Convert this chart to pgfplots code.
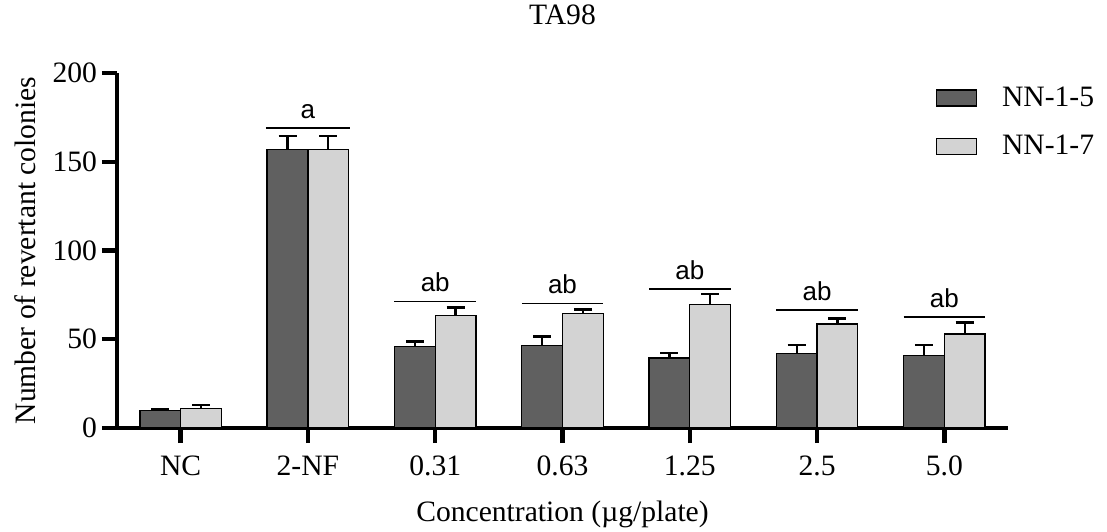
\documentclass[border=0pt]{standalone}
\usepackage{fontspec}
\setmainfont{Liberation Serif}
\newfontfamily\sansf{Liberation Sans}
\usepackage{pgfplots}
\usepackage{pgfplotstable}
\pgfplotsset{compat=1.18}
\definecolor{darkbar}{RGB}{96,96,96}
\definecolor{lightbar}{RGB}{211,211,211}
\pgfplotstableread{
x y e
0 10 0.6
1 157 7.5
2 46 2.8
3 46.5 5
4 39.5 2.8
5 42 4.8
6 41 5.6
}\nnfive
\pgfplotstableread{
x y e
0 11 1.8
1 157 7.5
2 63.5 4.5
3 64.5 2.3
4 69.5 6
5 58.5 3.3
6 53 6.4
}\nnseven
\newcommand{\fs}{\fontsize{14.8}{17}\selectfont}
\begin{document}
\begin{tikzpicture}
\begin{axis}[
 name=ax,
 scale only axis,
 width=445.5pt, height=177.5pt,
 xmin=-0.5, xmax=6.5, ymin=0, ymax=200,
 axis x line=bottom, axis y line=left,
 axis line style={line width=2.2pt, -},
 tick align=outside,
 major tick length=7.5pt,
 tick style={line width=2.2pt, black},
 xtick={0,...,6},
 xticklabels={NC,2-NF,0.31,0.63,1.25,2.5,5.0},
 ytick={0,50,100,150,200},
 /pgf/number format/assume math mode=true,
 tick label style={font=\fs},
 xticklabel style={yshift=-3pt},
 yticklabel style={xshift=1pt},
 title={TA98},
 title style={font=\fs, at={(0.5,1)}, anchor=center, yshift=23pt},
 xlabel={Concentration (µg/plate)},
 xlabel style={font=\fs, at={([yshift=-43pt]rel axis cs:0.5,0)}, anchor=center},
 ylabel={Number of revertant colonies},
 ylabel style={font=\fs, at={([xshift=-46pt]rel axis cs:0,0.5)}, anchor=center},
 legend style={draw=none, fill=none, font=\fs, at={(0.9116,0.985)}, anchor=north west, row sep=9pt,
   /tikz/every odd column/.append style={column sep=10.5pt}},
 legend cell align=left,
 legend image code/.code={\draw[#1, line width=0.7pt] (0pt,-4pt) rectangle (20pt,4pt);},
 clip=false,
]
\addplot[ybar, bar width=0.32, bar shift=0pt, fill=darkbar, draw=black, line width=0.7pt,
  error bars/.cd, y dir=plus, y explicit,
  error bar style={line width=1.2pt, black},
  error mark options={rotate=90, mark size=4.5pt, line width=1.2pt, black}]
  table[x expr=\thisrow{x}-0.16, y=y, y error=e] {\nnfive};
\addlegendentry{NN-1-5}
\addplot[ybar, bar width=0.32, bar shift=0pt, fill=lightbar, draw=black, line width=0.7pt,
  error bars/.cd, y dir=plus, y explicit,
  error bar style={line width=1.2pt, black},
  error mark options={rotate=90, mark size=4.5pt, line width=1.2pt, black}]
  table[x expr=\thisrow{x}+0.16, y=y, y error=e] {\nnseven};
\addlegendentry{NN-1-7}
\addplot[sharp plot, black, line width=0.7pt, forget plot] coordinates {(0.67,169) (1.33,169)};
\addplot[sharp plot, black, line width=0.7pt, forget plot] coordinates {(1.68,71.4) (2.32,71.4)};
\addplot[sharp plot, black, line width=0.7pt, forget plot] coordinates {(2.68,70.1) (3.32,70.1)};
\addplot[sharp plot, black, line width=0.7pt, forget plot] coordinates {(3.68,78.3) (4.32,78.3)};
\addplot[sharp plot, black, line width=0.7pt, forget plot] coordinates {(4.68,66.5) (5.32,66.5)};
\addplot[sharp plot, black, line width=0.7pt, forget plot] coordinates {(5.68,62.6) (6.32,62.6)};
\node[anchor=base, font=\sansf\fontsize{13}{15}\selectfont, inner sep=0pt] at (axis cs:1,174.4) {a};
\node[anchor=base, font=\sansf\fontsize{13}{15}\selectfont, inner sep=0pt] at (axis cs:2,76.8) {ab};
\node[anchor=base, font=\sansf\fontsize{13}{15}\selectfont, inner sep=0pt] at (axis cs:3,75.5) {ab};
\node[anchor=base, font=\sansf\fontsize{13}{15}\selectfont, inner sep=0pt] at (axis cs:4,83.7) {ab};
\node[anchor=base, font=\sansf\fontsize{13}{15}\selectfont, inner sep=0pt] at (axis cs:5,71.9) {ab};
\node[anchor=base, font=\sansf\fontsize{13}{15}\selectfont, inner sep=0pt] at (axis cs:6,68.0) {ab};
\end{axis}
\pgfresetboundingbox
\path[use as bounding box] ([xshift=-58.5pt, yshift=-51.5pt]ax.south west) rectangle ++(553.5pt,265.5pt);
\end{tikzpicture}
\end{document}
